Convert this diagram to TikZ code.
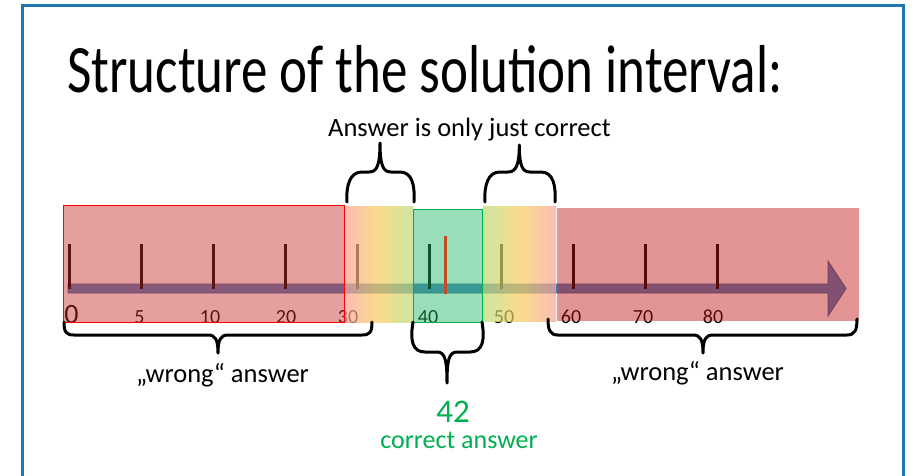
\documentclass[tikz,border=0pt]{standalone}
\usepackage{fontspec}
\setmainfont{Carlito}
\definecolor{framec}{RGB}{31,120,176}
\definecolor{arrowfill}{RGB}{79,129,189}
\definecolor{arrowline}{RGB}{56,93,138}
\definecolor{redovl}{RGB}{200,44,44}
\definecolor{redovr}{RGB}{193,22,22}
\definecolor{greenov}{RGB}{33,184,100}
\definecolor{greenbd}{RGB}{0,176,80}
\definecolor{gpink}{RGB}{248,162,148}
\definecolor{gyellow}{RGB}{248,205,91}
\definecolor{ggreen}{RGB}{184,219,119}
\definecolor{marktick}{RGB}{195,75,35}
\definecolor{txtgreen}{RGB}{0,176,80}
\begin{document}
\begin{tikzpicture}[x=1pt,y=-1pt,
  tickmark/.style={line width=3pt, black},
  numlbl/.style={font=\fontsize{20}{24}\selectfont, anchor=base, inner sep=0pt},
  bracepath/.style={line width=3pt, line cap=round, line join=round},
  lbl/.style={font=\fontsize{26.5}{31}\selectfont, anchor=base west, inner sep=0pt},
]
\useasboundingbox (0,0) rectangle (915,475);
\fill[white] (0,0) rectangle (915,475);
% frame
\draw[framec, line width=2.2pt] (22.5,490) -- (22.5,5.5) -- (903.5,5.5) -- (903.5,490);
% title
\node[font=\fontsize{53}{62}\selectfont, anchor=base west, inner sep=0pt] (title) at (67,92) {\scalebox{1}[1.28]{Structure of the solution interval:}};
% arrow (number line)
\filldraw[fill=arrowfill, draw=arrowline, line width=0.8pt]
  (68,284) -- (828,284) -- (828,261) -- (846,288.5) -- (828,316) -- (828,293) -- (68,293) -- cycle;
% ticks
\foreach \x in {69.3,141.7,213,285.7,357.3,429.3,501.7,573.3,645.7,717}
  \draw[tickmark] (\x,244) -- (\x,289);
% tick labels
\node[numlbl, font=\fontsize{28}{32}\selectfont] (n0) at (71.5,323) {0};
\node[numlbl] (n5) at (139.5,323) {5};
\node[numlbl] (n10) at (210,323) {10};
\node[numlbl] (n20) at (286,323) {20};
\node[numlbl] (n30) at (348,323) {30};
\node[numlbl] (n40) at (428,323) {40};
\node[numlbl] (n50) at (504,323) {50};
\node[numlbl] (n60) at (571,323) {60};
\node[numlbl] (n70) at (643,323) {70};
\node[numlbl] (n80) at (713,323) {80};
% overlays
\fill[redovl, fill opacity=0.45] (63.5,205) rectangle (344.5,322);
\draw[red, line width=1pt] (63.5,205) rectangle (344.5,322);
\fill[redovr, fill opacity=0.45] (556.5,207.5) rectangle (858.5,320.5);
\shade[left color=gpink, right color=ggreen, middle color=gyellow, fill opacity=0.7] (345,206) rectangle (413,322);
\shade[left color=ggreen, right color=gpink, middle color=gyellow, fill opacity=0.7] (483,206) rectangle (556,321);
\fill[greenov, fill opacity=0.45] (413.3,209.3) rectangle (482.7,322.3);
\draw[greenbd, line width=1pt] (413.3,209.3) rectangle (482.7,322.3);
% solution mark
\draw[marktick, line width=3pt] (445.7,236) -- (445.7,294);
% top braces
\draw[bracepath] (347,202) .. controls (346,185) and (350,172) .. (362,172) -- (369,172)
  .. controls (377,172) and (380,165) .. (380,143)
  .. controls (380,165) and (383,172) .. (391,172) -- (400,172)
  .. controls (412,172) and (415,185) .. (414,202);
\draw[bracepath] (485,202) .. controls (484,185) and (488,172) .. (500,172) -- (508,172)
  .. controls (516,172) and (519.3,165) .. (519.3,145)
  .. controls (519.3,165) and (522,172) .. (530,172) -- (541,172)
  .. controls (553,172) and (556,185) .. (555,202);
% bottom braces
\draw[bracepath] (64,322) .. controls (64,332) and (66,335) .. (74,335) -- (208,335)
  .. controls (215,335) and (218,339) .. (218,353)
  .. controls (218,339) and (221,335) .. (228,335) -- (362,335)
  .. controls (370,335) and (372,332) .. (372,322);
\draw[bracepath] (413,322) .. controls (410,340) and (412,352) .. (425,352) -- (437,352)
  .. controls (445,352) and (447,360) .. (447,383)
  .. controls (447,360) and (449,352) .. (457,352) -- (470,352)
  .. controls (483,352) and (485,340) .. (482,322);
\draw[bracepath] (548,319) .. controls (548,330) and (550,335) .. (558,335) -- (693,335)
  .. controls (700,335) and (703,339) .. (703,353)
  .. controls (703,339) and (706,335) .. (713,335) -- (847,335)
  .. controls (855,335) and (857,330) .. (857,319);
% labels
\node[lbl] (just) at (328,136) {Answer is only just correct};
\node[lbl] (wrongl) at (136,382) {„wrong“ answer};
\node[lbl] (wrongr) at (611,380) {„wrong“ answer};
\node[font=\fontsize{33}{40}\selectfont, anchor=base, inner sep=0pt, text=txtgreen] (ft) at (453,422) {42};
\node[font=\fontsize{26}{31}\selectfont, anchor=base, inner sep=0pt, text=txtgreen] (ca) at (459,448) {correct answer};
\end{tikzpicture}
\end{document}
